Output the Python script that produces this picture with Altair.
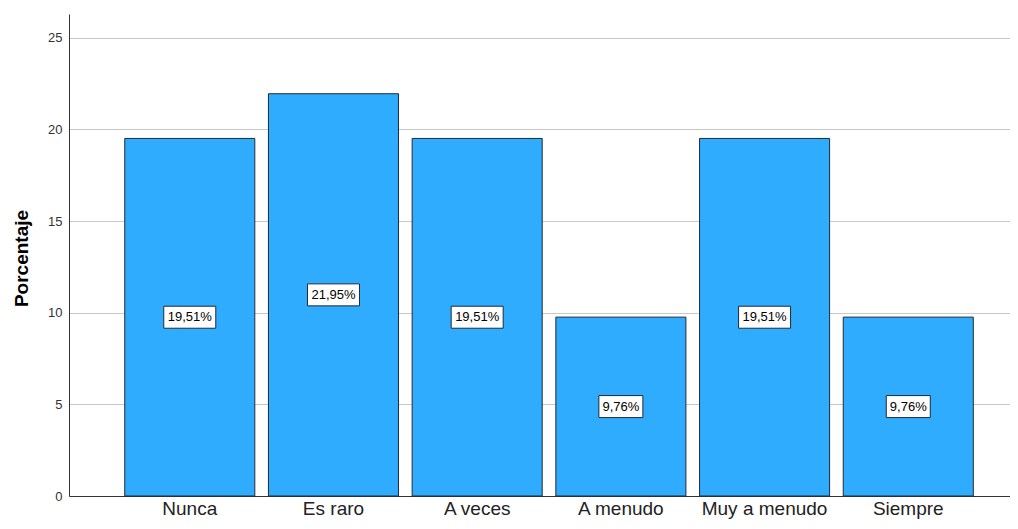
import altair as alt
import pandas as pd

categories = ["Nunca", "Es raro", "A veces", "A menudo", "Muy a menudo", "Siempre"]
percentages = [19.51, 21.95, 19.51, 9.76, 19.51, 9.76]
y_ticks = [0, 5, 10, 15, 20, 25]

df = pd.DataFrame({"cat": categories, "pct": percentages})
df["label"] = [f"{v:.2f}".replace(".", ",") + "%" for v in percentages]
df["mid"] = df["pct"] / 2


def box_path(label):
    hw = (len(label) * 8 + 4) / 2
    hh = 11
    return f"M{-hw},{-hh}H{hw}V{hh}H{-hw}Z"


df["box"] = df["label"].map(box_path)

FONT = "Arial"
EDGE = "#1e2a38"

x = alt.X(
    "cat:N",
    sort=categories,
    title=None,
    scale=alt.Scale(paddingInner=0.095, paddingOuter=0.3217, align=0.603),
    axis=alt.Axis(
        labelAngle=0, labelFont=FONT, labelFontSize=19, labelColor="#222222",
        labelPadding=3, ticks=False, domainColor="#333333", grid=False,
    ),
)

yaxis = alt.Axis(
    values=y_ticks, title="Porcentaje", titleFont=FONT, titleFontSize=19,
    titleFontWeight="bold", titleColor="#000000", titleX=-42, titleY=244,
    titleAngle=270, titleBaseline="alphabetic", titleAlign="center",
    labelFont=FONT, labelFontSize=13, labelColor="#333333", labelPadding=7,
    ticks=False, domainColor="#333333", gridColor="#c8c8c8",
)
yscale = alt.Scale(domain=[0, 26.3], nice=False)

bars = alt.Chart(df).mark_bar(color="#30acff", stroke=EDGE, strokeWidth=1).encode(
    x=x, y=alt.Y("pct:Q", scale=yscale, axis=yaxis)
)

boxes = alt.Chart(df).mark_point(
    filled=True, fill="white", stroke=EDGE, strokeWidth=1, opacity=1, size=4
).encode(
    x=x, y=alt.Y("mid:Q", scale=yscale, axis=yaxis),
    shape=alt.Shape("box:N", scale=None),
)

texts = alt.Chart(df).mark_text(
    font=FONT, fontSize=13, color="black", baseline="middle", align="center"
).encode(
    x=x, y=alt.Y("mid:Q", scale=yscale, axis=yaxis), text="label:N"
)

chart = (
    alt.layer(bars, boxes, texts)
    .properties(
        width=941, height=482,
        autosize=alt.AutoSizeParams(type="none"),
        padding={"left": 61, "top": 6, "right": 0, "bottom": 25},
        background="white",
    )
    .configure_view(stroke=None)
)

chart.save("out.html", embed_options={"renderer": "svg", "actions": False})
